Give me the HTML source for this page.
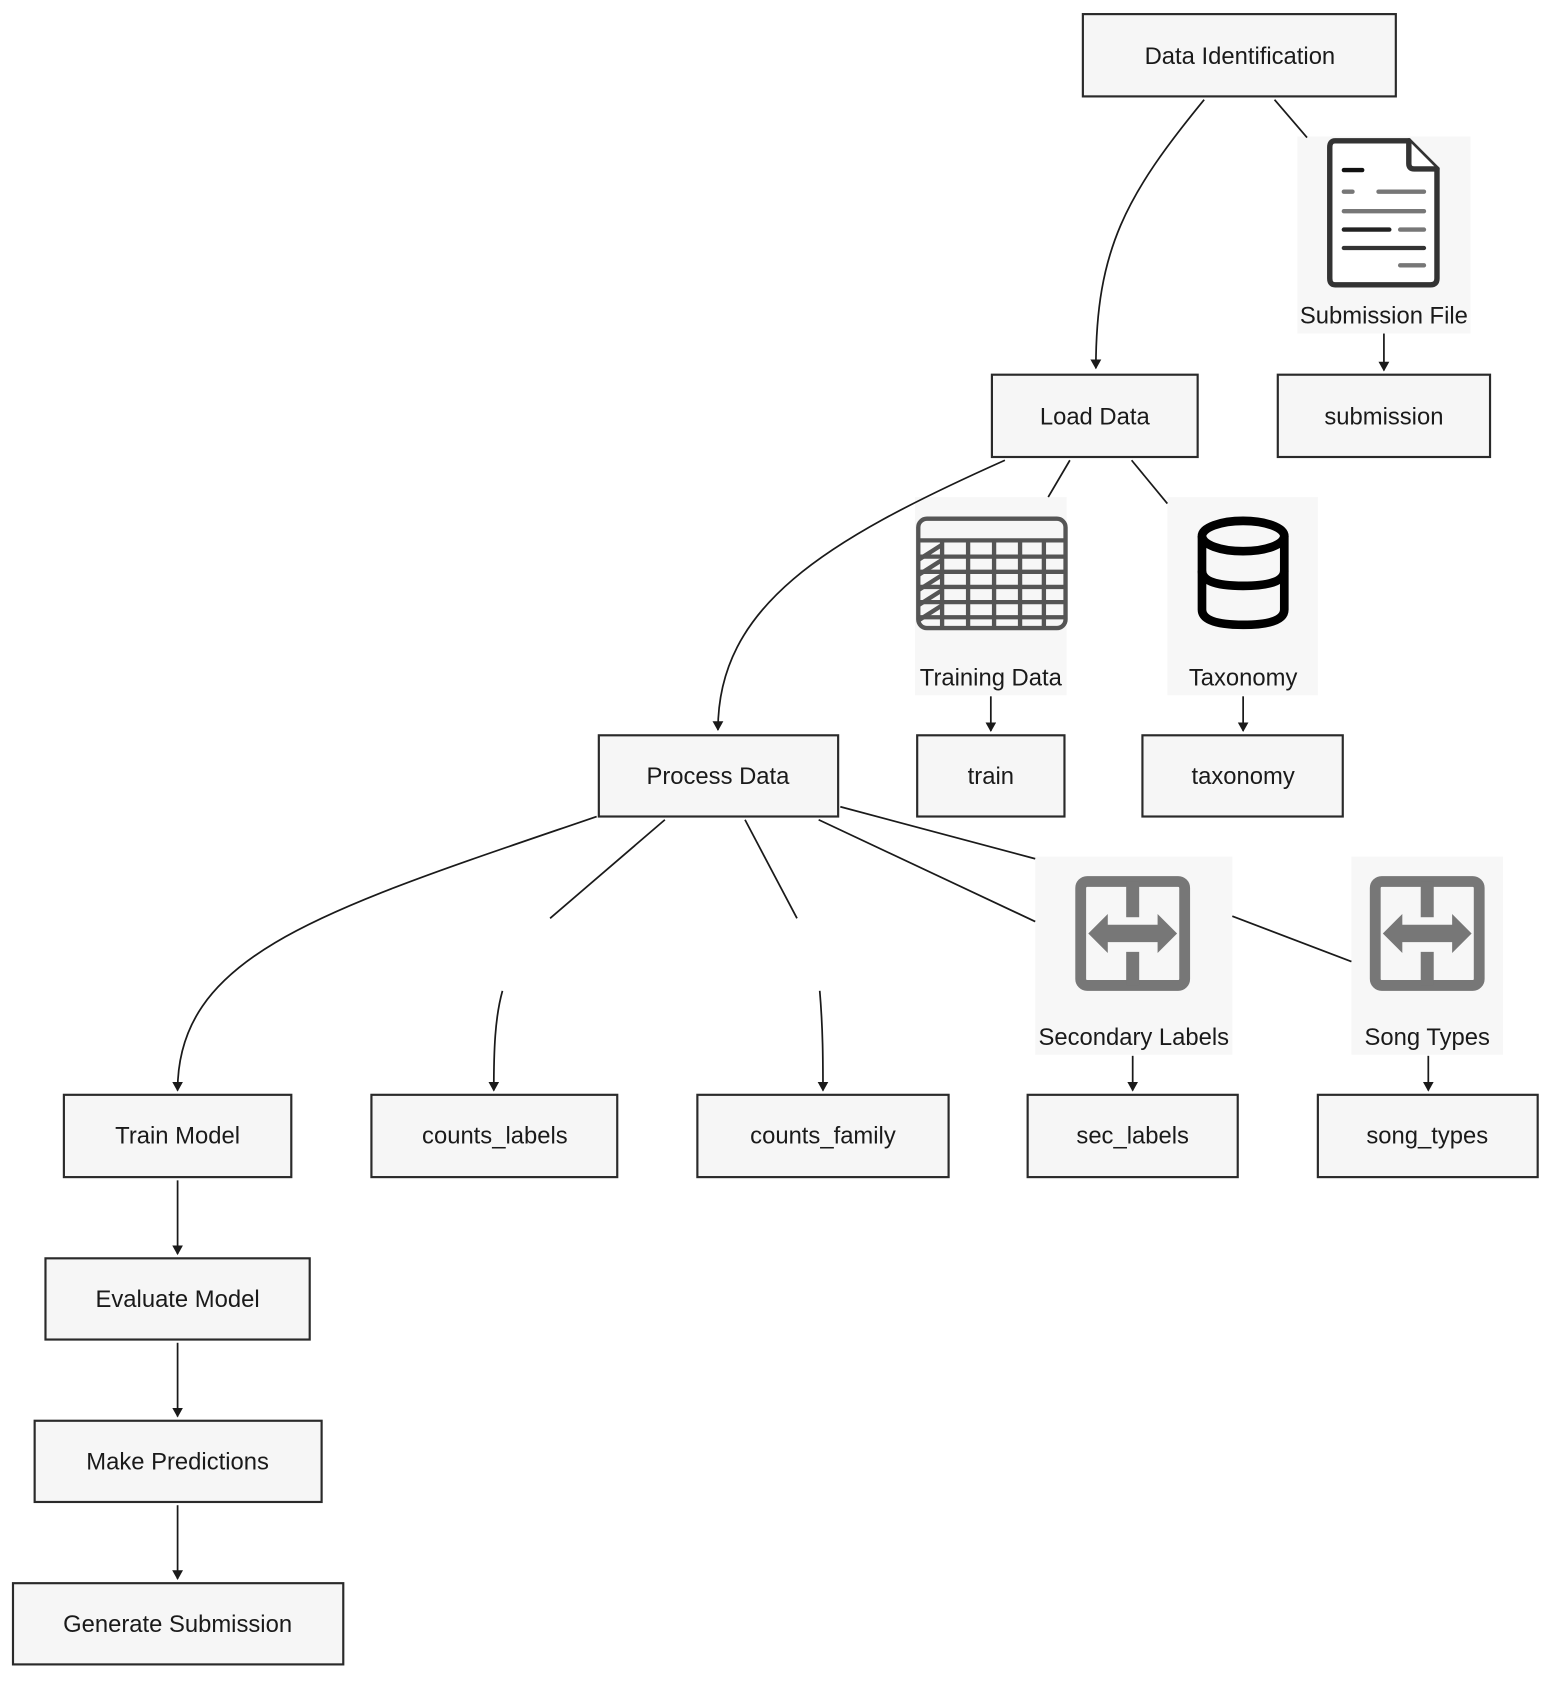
<!DOCTYPE html>
<html><head><meta charset="utf-8"><style>
html,body{margin:0;padding:0;background:#fff;}
svg{display:block;}
text{font-family:"Liberation Sans",sans-serif;font-size:22px;fill:#1a1a1a;text-anchor:middle;dominant-baseline:central;}
.b{fill:#f6f6f6;stroke:#2a2a2a;stroke-width:2;}
.e{fill:none;stroke:#1a1a1a;stroke-width:1.6;}
.ib{fill:#f7f7f7;}
</style></head><body>
<svg width="1568" height="1698" viewBox="0 0 1448 1568" xmlns="http://www.w3.org/2000/svg">
<defs><marker id="a" markerWidth="10" markerHeight="10" refX="8" refY="5" orient="auto" markerUnits="userSpaceOnUse"><path d="M0,0 L9,5 L0,10 z" fill="#1a1a1a"/></marker></defs>

<rect class="ib" x="1198" y="126" width="160" height="182"/>
<rect class="ib" x="845" y="459" width="140" height="183"/>
<rect class="ib" x="1078" y="459" width="139" height="183"/>
<rect class="ib" x="956" y="791" width="182" height="183"/>
<rect class="ib" x="1248" y="791" width="140" height="183"/>

<path class="e" d="M1112 92 C1040 180 1012 230 1012 340" marker-end="url(#a)"/>
<path class="e" d="M1177 92 L1207 127"/>
<path class="e" d="M1278 308 L1278 342" marker-end="url(#a)"/>
<path class="e" d="M928 425 C760 500 663 560 663 674" marker-end="url(#a)"/>
<path class="e" d="M988 425 L968 459"/>
<path class="e" d="M1045 425 L1078 465"/>
<path class="e" d="M915 643 L915 675" marker-end="url(#a)"/>
<path class="e" d="M1148 643 L1148 675" marker-end="url(#a)"/>
<path class="e" d="M551 754 C300 840 164 880 164 1007" marker-end="url(#a)"/>
<path class="e" d="M614 757 L508 848"/>
<path class="e" d="M464 915 C457 940 456 970 456 1007" marker-end="url(#a)"/>
<path class="e" d="M688 757 L736 848"/>
<path class="e" d="M757 915 C760 950 760 980 760 1007" marker-end="url(#a)"/>
<path class="e" d="M756 757 L956 851"/>
<path class="e" d="M776 745 L956 793"/>
<path class="e" d="M1138 846 L1248 888"/>
<path class="e" d="M1046 975 L1046 1007" marker-end="url(#a)"/>
<path class="e" d="M1319 975 L1319 1007" marker-end="url(#a)"/>
<path class="e" d="M164 1090 L164 1158" marker-end="url(#a)"/>
<path class="e" d="M164 1240 L164 1308" marker-end="url(#a)"/>
<path class="e" d="M164 1390 L164 1458" marker-end="url(#a)"/>

<rect class="b" x="1000" y="13" width="289" height="76"/><text x="1145" y="52">Data Identification</text>
<rect class="b" x="916" y="346" width="190" height="76"/><text x="1011" y="385">Load Data</text>
<rect class="b" x="1180" y="346" width="196" height="76"/><text x="1278" y="385">submission</text>
<rect class="b" x="553" y="679" width="221" height="75"/><text x="663" y="717">Process Data</text>
<rect class="b" x="847" y="679" width="136" height="75"/><text x="915" y="717">train</text>
<rect class="b" x="1055" y="679" width="185" height="75"/><text x="1148" y="717">taxonomy</text>
<rect class="b" x="59" y="1011" width="210" height="76"/><text x="164" y="1049">Train Model</text>
<rect class="b" x="343" y="1011" width="227" height="76"/><text x="457" y="1049">counts_labels</text>
<rect class="b" x="644" y="1011" width="232" height="76"/><text x="760" y="1049">counts_family</text>
<rect class="b" x="949" y="1011" width="194" height="76"/><text x="1046" y="1049">sec_labels</text>
<rect class="b" x="1217" y="1011" width="203" height="76"/><text x="1318" y="1049">song_types</text>
<rect class="b" x="42" y="1162" width="244" height="75"/><text x="164" y="1200">Evaluate Model</text>
<rect class="b" x="32" y="1312" width="265" height="75"/><text x="164" y="1350">Make Predictions</text>
<rect class="b" x="12" y="1462" width="305" height="75"/><text x="164" y="1500">Generate Submission</text>

<text x="1278" y="292">Submission File</text>
<text x="915" y="626">Training Data</text>
<text x="1148" y="626">Taxonomy</text>
<text x="1047" y="958">Secondary Labels</text>
<text x="1318" y="958">Song Types</text>

<g transform="translate(1225,127)" stroke-linecap="round">
<path d="M8 3 H76 L102 29 V130 Q102 136 96 136 H8 Q3 136 3 130 V9 Q3 3 8 3 Z" fill="#fff" stroke="#333" stroke-width="5"/>
<path d="M76 3 V24 Q76 29 81 29 H102" fill="#fff" stroke="#333" stroke-width="5"/>
<g stroke-width="4">
<line x1="16" y1="30" x2="33" y2="30" stroke="#111"/>
<line x1="16" y1="50" x2="24" y2="50" stroke="#777"/><line x1="48" y1="50" x2="90" y2="50" stroke="#777"/>
<line x1="16" y1="68" x2="90" y2="68" stroke="#777"/>
<line x1="16" y1="85" x2="58" y2="85" stroke="#222"/><line x1="68" y1="85" x2="90" y2="85" stroke="#777"/>
<line x1="16" y1="102" x2="90" y2="102" stroke="#333"/>
<line x1="68" y1="118" x2="90" y2="118" stroke="#777"/>
</g></g>

<g transform="translate(846,477)" fill="none" stroke="#555" stroke-width="4">
<rect x="2" y="2" width="136" height="101" rx="8"/>
<line x1="2" y1="22" x2="138" y2="22"/>
<line x1="2" y1="37" x2="138" y2="37"/><line x1="2" y1="51" x2="138" y2="51"/><line x1="2" y1="65" x2="138" y2="65"/><line x1="2" y1="79" x2="138" y2="79"/><line x1="2" y1="93" x2="138" y2="93"/>
<line x1="24" y1="22" x2="24" y2="103"/><line x1="48" y1="22" x2="48" y2="103"/><line x1="72" y1="22" x2="72" y2="103"/><line x1="96" y1="22" x2="96" y2="103"/><line x1="118" y1="22" x2="118" y2="103"/>
<path d="M2 40 L24 26 M2 54 L24 40 M2 68 L24 54 M2 82 L24 68 M2 96 L24 82"/>
</g>

<g transform="translate(1106,477)" fill="none" stroke="#000" stroke-width="8">
<ellipse cx="42" cy="18" rx="38" ry="14"/>
<path d="M4 18 V86 Q4 100 42 100 Q80 100 80 86 V18"/>
<path d="M4 50 Q4 64 42 64 Q80 64 80 50"/>
</g>

<g transform="translate(993,809)">
<rect x="5" y="5" width="96" height="96" rx="6" fill="none" stroke="#777" stroke-width="10"/>
<rect x="47" y="5" width="12" height="33" fill="#777"/>
<rect x="47" y="70" width="12" height="31" fill="#777"/>
<polygon points="12,53 30,35 30,45 76,45 76,35 94,53 76,71 76,61 30,61 30,71" fill="#777"/>
</g>
<g transform="translate(1265,809)">
<rect x="5" y="5" width="96" height="96" rx="6" fill="none" stroke="#777" stroke-width="10"/>
<rect x="47" y="5" width="12" height="33" fill="#777"/>
<rect x="47" y="70" width="12" height="31" fill="#777"/>
<polygon points="12,53 30,35 30,45 76,45 76,35 94,53 76,71 76,61 30,61 30,71" fill="#777"/>
</g>
</svg>
</body></html>
